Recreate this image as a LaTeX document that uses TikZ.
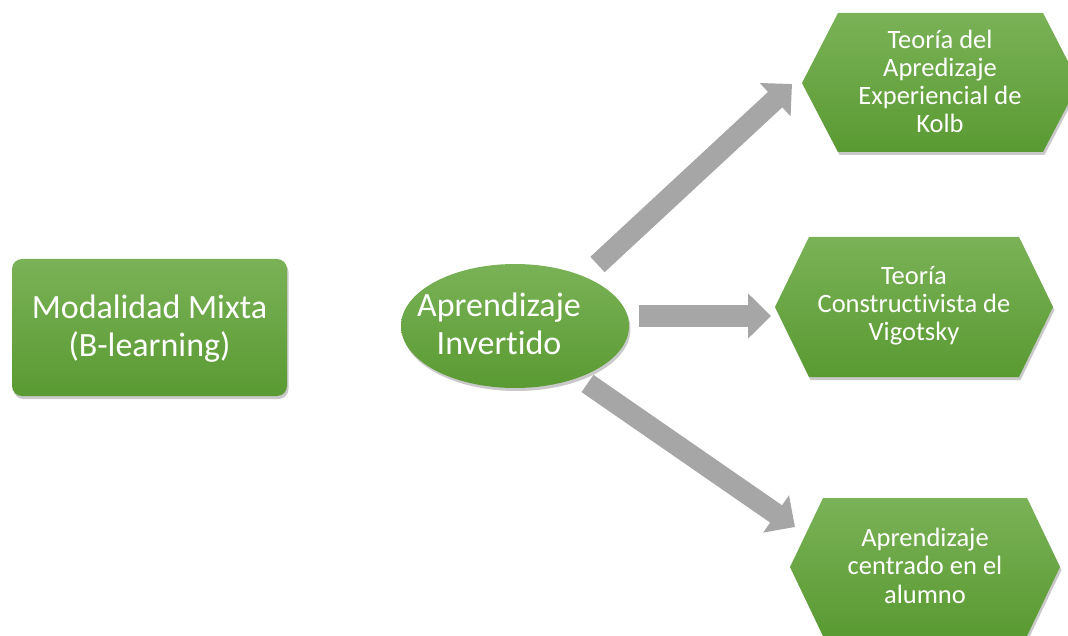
\documentclass[tikz,border=0pt]{standalone}
\usepackage{fontspec}
\setmainfont[Ligatures=NoCommon]{Carlito}
\usetikzlibrary{arrows.meta,shadows}
\definecolor{gtop}{HTML}{7AB257}
\definecolor{gbot}{HTML}{5A9A32}
\definecolor{agray}{HTML}{A6A6A6}
\tikzset{
  greenshape/.style={top color=gtop, bottom color=gbot, draw=none,
    drop shadow={shadow xshift=1.5pt, shadow yshift=-3pt, opacity=0.3, fill=black!70}},
  bigtxt/.style={text=white, align=center, font=\fontsize{34}{38}\selectfont, inner sep=0pt},
  smalltxt/.style={text=white, align=center, font=\fontsize{26.5}{28.2}\selectfont, inner sep=0pt},
  blockarrow/.style={draw=agray, line width=21pt, -{Triangle[length=23pt,width=44pt]}},
}
\begin{document}
\begin{tikzpicture}[x=1pt,y=-1pt]
\useasboundingbox (0,0) rectangle (1068,636);
% left rounded rectangle
\path[greenshape, rounded corners=10pt] (12,259) rectangle (287,396);
\node[bigtxt, anchor=base] (mm) at (149.5,356) {Modalidad Mixta\\(B-learning)};
% ellipse
\path[greenshape] (515,326) ellipse [x radius=114, y radius=62];
\node[bigtxt, anchor=base] (ai) at (499,354) {Aprendizaje\\Invertido};
% hexagons
\path[greenshape] (802,83) -- (838,13) -- (1043,13) -- (1079,83) -- (1043,152) -- (838,152) -- cycle;
\node[smalltxt, anchor=base] (kolb) at (940,133) {Teoría del\\Apredizaje\\Experiencial de\\Kolb};
\path[greenshape] (775,307) -- (809,237) -- (1019,237) -- (1053,307) -- (1019,377) -- (809,377) -- cycle;
\node[smalltxt, anchor=base] (vig) at (914,341) {Teoría\\Constructivista de\\Vigotsky};
\path[greenshape] (790,567) -- (823,498) -- (1027,498) -- (1060,567) -- (1027,636) -- (823,636) -- cycle;
\node[smalltxt, anchor=base] (alu) at (925,603) {Aprendizaje\\centrado en el\\alumno};
% arrows
\coordinate (a1s) at (597.5,264.5);
\coordinate (a1e) at (792,84);
\coordinate (a2s) at (639,316);
\coordinate (a2e) at (771,316);
\coordinate (a3s) at (587.5,383.5);
\coordinate (a3e) at (795,527);
\draw[blockarrow] (a1s) -- (a1e);
\draw[blockarrow] (a2s) -- (a2e);
\draw[blockarrow] (a3s) -- (a3e);
\end{tikzpicture}
\end{document}
